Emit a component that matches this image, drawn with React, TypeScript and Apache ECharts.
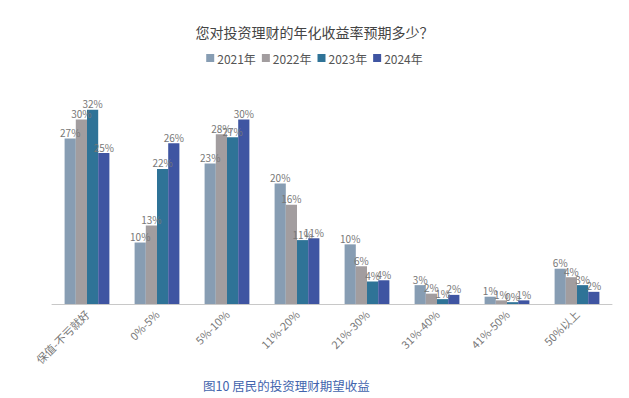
import React, { useEffect, useRef } from "react";
import * as echarts from "echarts";

const categories = ["保值-不亏就好", "0%-5%", "5%-10%", "11%-20%", "21%-30%", "31%-40%", "41%-50%", "50%以上"];
const years = ["2021年", "2022年", "2023年", "2024年"];
const colors = ["#879db3", "#a29d9f", "#2f7397", "#3f55a2"];
const v2021 = [27.2, 10.1, 23.1, 19.8, 9.8, 3.1, 1.2, 5.8];
const v2022 = [30.3, 12.9, 27.9, 16.3, 6.2, 1.7, 0.6, 4.4];
const v2023 = [31.9, 22.2, 27.4, 10.5, 3.7, 0.8, 0.3, 3.1];
const v2024 = [24.8, 26.4, 30.3, 10.8, 3.9, 1.5, 0.6, 2.0];
const seriesValues = [v2021, v2022, v2023, v2024];
const title = "您对投资理财的年化收益率预期多少？";
const caption = "图10 居民的投资理财期望收益";

export default function App() {
  const ref = useRef<HTMLDivElement>(null);
  useEffect(() => {
    if (!ref.current) return;
    const chart = echarts.init(ref.current, undefined, { renderer: "svg" });
    const font = "'Noto Sans CJK SC', 'Noto Sans', sans-serif";
    chart.setOption({
      animation: false,
      textStyle: { fontFamily: font },
      title: [
        {
          text: title,
          left: "center",
          top: 20,
          textStyle: { fontSize: 14, fontWeight: "normal", color: "#444", fontFamily: font },
        },
        {
          text: caption,
          left: 198,
          top: 374,
          textStyle: { fontSize: 12.5, fontWeight: "normal", color: "#4264ad", fontFamily: font },
        },
      ],
      legend: {
        data: years,
        top: 47,
        left: "center",
        itemWidth: 8,
        itemHeight: 8,
        itemGap: 6,
        icon: "rect",
        textStyle: { fontSize: 12, color: "#555", padding: [0, 0, 0, -2] },
      },
      grid: { left: 52, right: 17, top: 91, bottom: 94, containLabel: false },
      xAxis: {
        type: "category",
        data: categories,
        axisLine: { lineStyle: { color: "#c8c8c8", width: 1 } },
        axisTick: { show: false },
        axisLabel: { rotate: 45, fontSize: 11, color: "#777", margin: 8, interval: 0 },
      },
      yAxis: {
        type: "value",
        min: 0,
        max: 35,
        show: false,
        splitLine: { show: false },
      },
      series: years.map((y, i) => ({
        name: y,
        type: "bar",
        data: seriesValues[i],
        barGap: "0%",
        barCategoryGap: "36%",
        itemStyle: { color: colors[i] },
        label: {
          show: true,
          position: "top",
          distance: 1,
          fontSize: 10,
          color: "#777",
          formatter: (p: any) => Math.round(p.value) + "%",
        },
      })),
    });
    return () => chart.dispose();
  }, []);
  return <div ref={ref} style={{ width: 629, height: 398, position: "absolute", left: 0, top: 0 }} />;
}
